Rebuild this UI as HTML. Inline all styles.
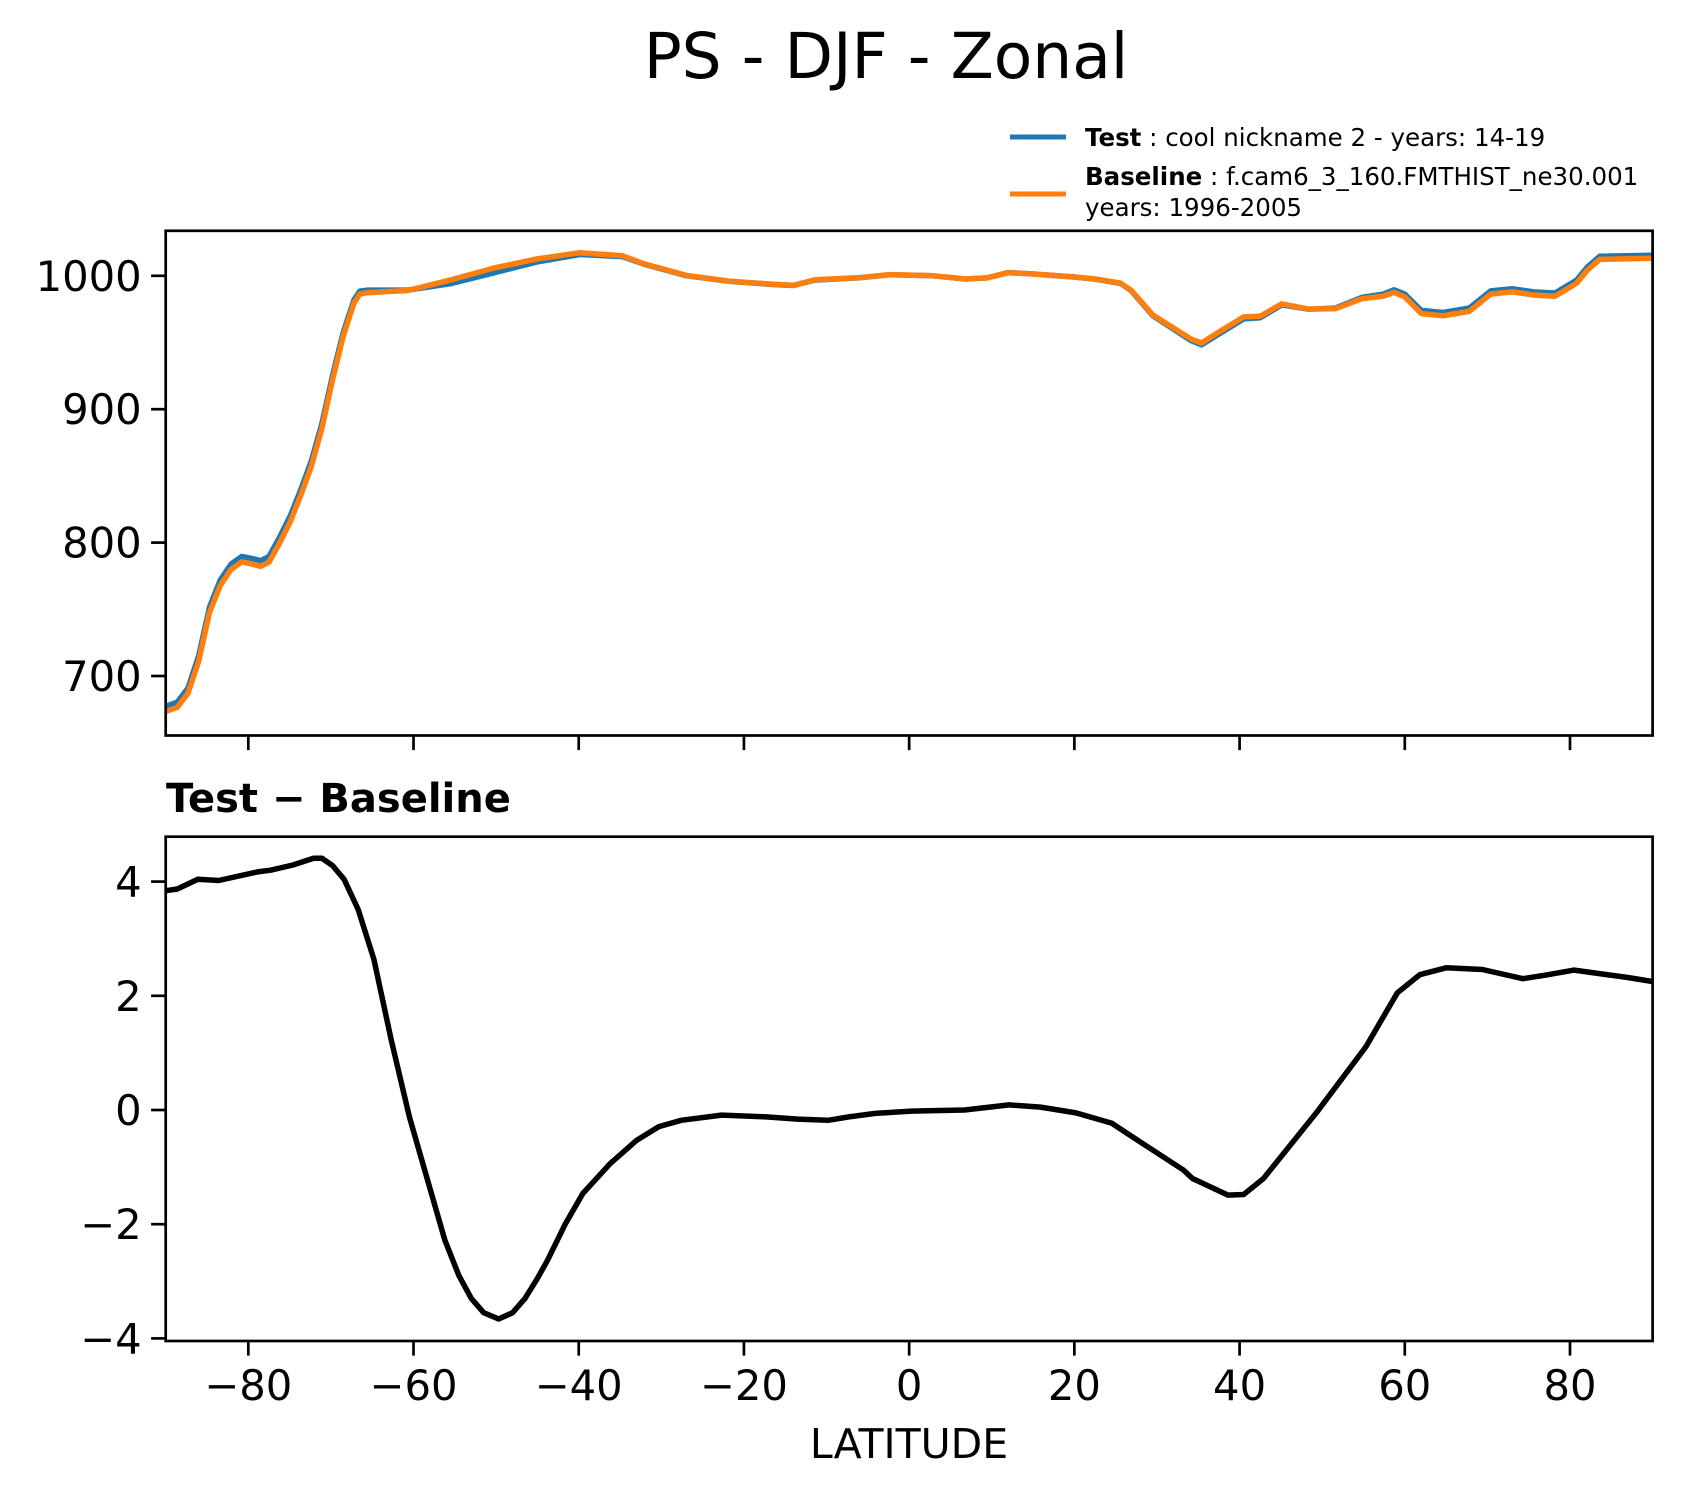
<!DOCTYPE html>
<html><head><meta charset="utf-8">
<style>
html,body{margin:0;padding:0;background:#fff;}
svg{display:block;}
text{font-family:"DejaVu Sans","Liberation Sans",sans-serif;}
</style></head>
<body>
<svg id="fig" width="1683" height="1496" viewBox="0 0 1683 1496" xmlns="http://www.w3.org/2000/svg">
  <rect x="0" y="0" width="1683" height="1496" fill="#fff"/>
  <text x="886" y="78" font-size="63" text-anchor="middle">PS - DJF - Zonal</text>
  <g>
    <line x1="1010" y1="137" x2="1066" y2="137" stroke="#1f77b4" stroke-width="5"/>
    <text x="1085" y="146" font-size="24.5"><tspan font-weight="bold">Test</tspan> : cool nickname 2 - years: 14-19</text>
    <line x1="1010" y1="194" x2="1066" y2="194" stroke="#ff7f0e" stroke-width="5"/>
    <text x="1085" y="185" font-size="24.5"><tspan font-weight="bold">Baseline</tspan> : f.cam6_3_160.FMTHIST_ne30.001</text>
    <text x="1085" y="216" font-size="24.5">years: 1996-2005</text>
  </g>
  <g id="top"></g>
  <text x="166" y="812" font-size="40" font-weight="bold">Test − Baseline</text>
  <g id="bot"></g>
  <text x="909" y="1458" font-size="41" text-anchor="middle">LATITUDE</text>
</svg>
<script>
const topLat = [-90,-88.6,-87.3,-86.0,-84.7,-83.4,-82.1,-80.8,-79.5,-78.5,-77.5,-76.2,-74.9,-73.6,-72.4,-71.1,-69.8,-68.5,-67.2,-66.5,-65.5,-60.7,-55.5,-50.3,-45.1,-39.9,-34.7,-32.1,-26.9,-21.7,-16.5,-14.0,-11.4,-6.2,-2.3,2.9,6.8,9.4,12.0,14.6,19.8,22.4,25.6,26.9,29.5,32.1,34.1,35.4,37.3,40.5,42.5,45.1,48.3,51.6,54.8,57.4,58.7,60.0,62.0,64.6,67.8,70.4,73.0,75.6,78.2,80.8,82.1,83.6,90];
const testVals = [677.2,680.4,691.0,715.2,751.6,771.8,783.9,789.6,788.0,786.4,789.6,804.2,820.3,840.5,860.7,889.0,925.4,957.7,982.0,988.5,989.3,989.3,994.1,1002.2,1010.3,1016.0,1014.4,1008.7,1000.0,995.8,993.5,992.7,996.8,998.4,1000.8,1000.0,997.6,998.4,1002.4,1001.6,999.2,997.6,994.3,988.7,970.1,959.6,951.5,948.3,955.6,967.7,968.5,978.2,975.0,975.8,983.8,986.3,989.5,986.3,974.1,972.5,975.8,988.7,990.3,987.9,987.1,996.8,1006.5,1014.6,1015.4];
const baseVals = [673.4,676.5,687.0,711.2,747.6,767.8,779.8,785.5,783.8,782.2,785.3,799.8,815.9,836.3,856.7,885.3,922.2,954.9,979.6,986.3,987.4,989.0,996.9,1005.8,1012.6,1017.3,1015.0,1009.0,1000.2,995.9,993.7,992.9,997.0,998.5,1000.9,1000.0,997.6,998.4,1002.3,1001.5,999.2,997.7,994.5,989.0,970.7,960.5,952.7,949.6,957.1,969.2,969.7,978.9,975.1,975.3,982.8,984.8,987.6,984.2,971.7,970.0,973.3,986.3,988.0,985.6,984.7,994.4,1004.1,1012.3,1013.2];
const diffLat = [-90,-88.6,-86.1,-83.6,-78.9,-77.3,-74.6,-72.1,-71.1,-69.8,-68.4,-66.7,-64.8,-62.7,-60.5,-58.3,-56.2,-54.5,-53,-51.5,-49.7,-48,-46.5,-45,-43.8,-41.6,-39.5,-36.2,-33.0,-30.3,-27.6,-22.7,-17.3,-13.5,-9.8,-7.3,-4.1,0.3,6.7,12.1,15.9,20.2,24.5,28.3,33.2,34.3,38.6,40.5,42.9,49.4,55.3,59.1,61.8,65.0,69.4,74.3,77,80.5,84,87,90];
const diffVals = [3.84,3.87,4.04,4.02,4.17,4.20,4.29,4.41,4.41,4.28,4.04,3.51,2.64,1.23,-0.12,-1.23,-2.28,-2.9,-3.3,-3.55,-3.66,-3.55,-3.3,-2.95,-2.64,-1.99,-1.46,-0.94,-0.53,-0.29,-0.18,-0.09,-0.12,-0.16,-0.18,-0.12,-0.06,-0.02,0.0,0.09,0.05,-0.05,-0.23,-0.59,-1.05,-1.20,-1.49,-1.48,-1.20,-0.03,1.11,2.05,2.37,2.49,2.46,2.30,2.36,2.45,2.38,2.32,2.25];
const xTicks = [-80,-60,-40,-20,0,20,40,60,80];
const topYTicks = [700,800,900,1000];
const botYTicks = [-4,-2,0,2,4];

const NS = 'http://www.w3.org/2000/svg';
const L = 165.7, R = 1652.6;
const T1 = 230.8, B1 = 735.5, T2 = 836.7, B2 = 1341;
function xScale(lat){ return L + (lat + 90) * (R - L) / 180; }
function yTop(v){ return 275.8 + (1000 - v) * 1.334; }
function yBot(v){ return 1110 - v * 57.1; }
function mk(tag, attrs, parent){
  const e = document.createElementNS(NS, tag);
  for (const k in attrs) e.setAttribute(k, attrs[k]);
  parent.appendChild(e); return e;
}
function fmt(v){ return v < 0 ? '\u2212' + Math.abs(v) : String(v); }
const gTop = document.getElementById('top');
const gBot = document.getElementById('bot');

function path(lats, vals, ys){
  return lats.map((la,i)=>(i?'L':'M')+xScale(la).toFixed(1)+','+ys(vals[i]).toFixed(1)).join(' ');
}
const clipDefs = mk('defs', {}, gTop);
const cp1 = mk('clipPath', {id:'c1'}, clipDefs); mk('rect', {x:L,y:T1,width:R-L,height:B1-T1}, cp1);
const cp2 = mk('clipPath', {id:'c2'}, clipDefs); mk('rect', {x:L,y:T2,width:R-L,height:B2-T2}, cp2);

const lt = mk('path', {d:path(topLat,testVals,yTop), fill:'none', stroke:'#1f77b4', 'stroke-width':5.5, 'stroke-linejoin':'round', 'clip-path':'url(#c1)'}, gTop);


const lb = mk('path', {d:path(topLat,baseVals,yTop), fill:'none', stroke:'#ff7f0e', 'stroke-width':5.5, 'stroke-linejoin':'round', 'clip-path':'url(#c1)'}, gTop);


const ld = mk('path', {d:path(diffLat,diffVals,yBot), fill:'none', stroke:'#000', 'stroke-width':5.5, 'stroke-linejoin':'round', 'clip-path':'url(#c2)'}, gBot);



const f1 = mk('rect', {x:L,y:T1,width:R-L,height:B1-T1,fill:'none',stroke:'#000','stroke-width':2.7}, gTop);


const f2 = mk('rect', {x:L,y:T2,width:R-L,height:B2-T2,fill:'none',stroke:'#000','stroke-width':2.7}, gBot);



xTicks.forEach(t=>{
  const x = xScale(t);
  const a = mk('line', {x1:x,y1:B1,x2:x,y2:B1+14.6,stroke:'#000','stroke-width':2.7}, gTop);
  
  
  const b = mk('line', {x1:x,y1:B2,x2:x,y2:B2+14.6,stroke:'#000','stroke-width':2.7}, gBot);
  
  
  const tx = mk('text', {x:x,y:1400,'font-size':41.7,'text-anchor':'middle'}, gBot);
  tx.textContent = fmt(t);
  
  
});
topYTicks.forEach(t=>{
  const y = yTop(t);
  const a = mk('line', {x1:L-14.6,y1:y,x2:L,y2:y,stroke:'#000','stroke-width':2.7}, gTop);
  
  
  const tx = mk('text', {x:L-24,y:y+15,'font-size':41.7,'text-anchor':'end'}, gTop);
  tx.textContent = fmt(t);
  
  
});
botYTicks.forEach(t=>{
  const y = yBot(t);
  const a = mk('line', {x1:L-14.6,y1:y,x2:L,y2:y,stroke:'#000','stroke-width':2.7}, gBot);
  
  
  const tx = mk('text', {x:L-24,y:y+15,'font-size':41.7,'text-anchor':'end'}, gBot);
  tx.textContent = fmt(t);
  
  
});
</script>
</body></html>
